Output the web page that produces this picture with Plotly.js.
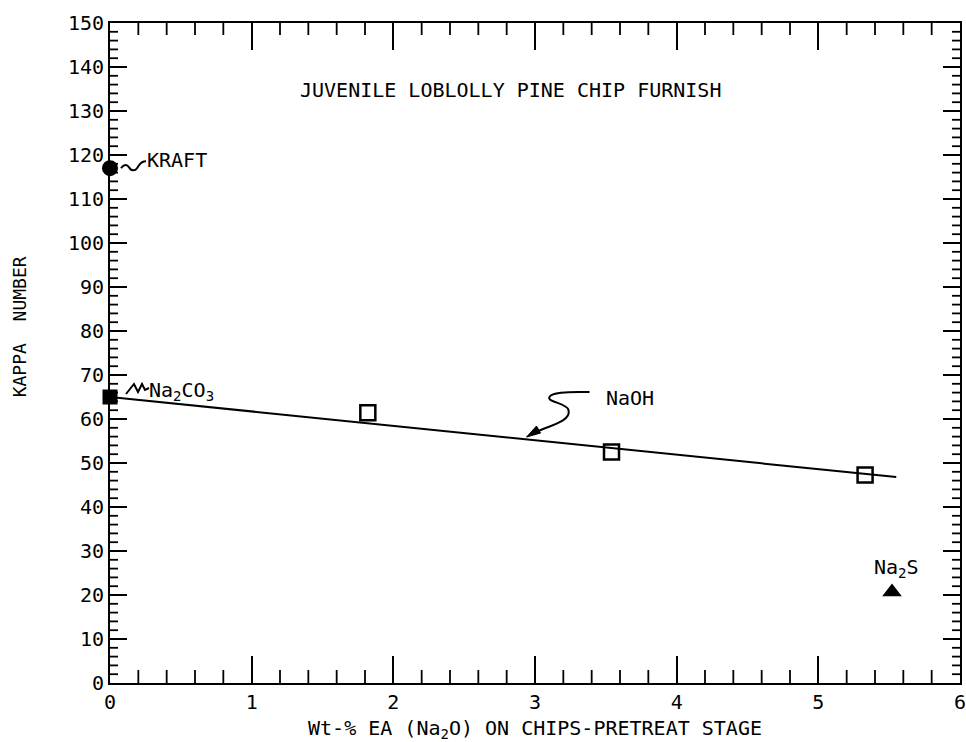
<!DOCTYPE html>
<html>
<head>
<meta charset="utf-8">
<script src="https://cdn.plot.ly/plotly-3.0.1.min.js"></script>
<style>html,body{margin:0;padding:0;background:#fff;}#chart{width:966px;height:742px;}</style>
</head>
<body>
<div id="chart"></div>
<script>
// Data
const naohX = [1.82, 3.54, 5.33];
const naohY = [61.4, 52.5, 47.3];
const fitX = [0, 5.55];
const fitY = [65.0, 46.8];
const kraftX = [0];
const kraftY = [117];
const na2co3X = [0];
const na2co3Y = [65];
const na2sX = [5.52];
const na2sY = [20.7];
const xTicks = [0, 1, 2, 3, 4, 5, 6];
const yTicks = [0, 10, 20, 30, 40, 50, 60, 70, 80, 90, 100, 110, 120, 130, 140, 150];
const xMinorStep = 0.2;
const yMinorStep = 2;
const xMax = 6, yMax = 150;

const FONT = '"DejaVu Sans Mono", "Liberation Mono", monospace';
const ink = '#000';

const traces = [
  {x: fitX, y: fitY, mode: 'lines', line: {color: ink, width: 2}, hoverinfo: 'skip'},
  {x: naohX, y: naohY, mode: 'markers', marker: {symbol: 'square-open', size: 15, color: ink, line: {width: 2.5, color: ink}}},
  {x: kraftX, y: kraftY, mode: 'markers', marker: {symbol: 'circle', size: 16, color: ink}, cliponaxis: false},
  {x: na2co3X, y: na2co3Y, mode: 'markers', marker: {symbol: 'square', size: 15, color: ink}, cliponaxis: false},
  {x: na2sX, y: na2sY, mode: 'markers', marker: {symbol: 'triangle-up', size: 17, color: ink}}
];

const tickFont = {family: FONT, size: 20, color: ink};

// minor tick marks (inside, on all four sides): anchored at axis values, lengths in pixels
function tickPath(xv, yv, path) {
  return {type: 'path', xref: 'x', yref: 'y', xsizemode: 'pixel', ysizemode: 'pixel',
          xanchor: xv, yanchor: yv, path: path, layer: 'below', line: {color: ink, width: 1.8}};
}
const minorShapes = [];
const nX = Math.round(xMax / xMinorStep);
for (let i = 1; i < nX; i++) {
  if (i % 5 === 0) continue;
  const v = i * xMinorStep;
  minorShapes.push(tickPath(v, 0, 'M 0 0 L 0 13'));
  minorShapes.push(tickPath(v, yMax, 'M 0 0 L 0 -12'));
}
const nY = Math.round(yMax / yMinorStep);
for (let i = 1; i < nY; i++) {
  if (i % 5 === 0) continue;
  const v = i * yMinorStep;
  minorShapes.push(tickPath(0, v, 'M 0 0 L 8 0'));
  minorShapes.push(tickPath(xMax, v, 'M 0 0 L -8 0'));
}

const layout = {
  width: 966, height: 742,
  margin: {l: 110, r: 6, t: 23, b: 59},
  paper_bgcolor: '#fff', plot_bgcolor: '#fff',
  showlegend: false,
  xaxis: {
    range: [0, xMax], tickvals: xTicks, ticktext: xTicks.map(String), ticklen: 27,
    showgrid: false, zeroline: false, showline: true, linecolor: ink, linewidth: 2,
    ticks: 'inside', mirror: 'allticks', tickcolor: ink, tickwidth: 2, tickfont: tickFont,
    ticklabeloverflow: 'allow',
    title: {text: 'Wt-% EA (Na<sub>2</sub>O) ON CHIPS-PRETREAT STAGE', font: {family: FONT, size: 20, color: ink}, standoff: 11}
  },
  yaxis: {
    range: [0, yMax], tickvals: yTicks, ticktext: yTicks.map(String), ticklen: 17,
    showgrid: false, zeroline: false, showline: true, linecolor: ink, linewidth: 2,
    ticks: 'inside', mirror: 'allticks', tickcolor: ink, tickwidth: 2, tickfont: tickFont,
    ticklabeloverflow: 'allow'
  },
  annotations: [
    {xref: 'paper', yref: 'paper', x: -0.107, y: 0.539, xanchor: 'center', yanchor: 'middle',
     text: 'KAPPA  NUMBER', textangle: -90,
     showarrow: false, font: {family: FONT, size: 18, color: ink}},
    {xref: 'paper', yref: 'paper', x: 0.471, y: 0.92, text: 'JUVENILE LOBLOLLY PINE CHIP FURNISH',
     showarrow: false, font: {family: FONT, size: 20, color: ink}},
    {xref: 'x', yref: 'y', x: 0.25, y: 118.9, xanchor: 'left', text: 'KRAFT', showarrow: false,
     font: {family: FONT, size: 20, color: ink}},
    {xref: 'x', yref: 'y', x: 0.26, y: 66.3, xanchor: 'left', text: 'Na<sub>2</sub>CO<sub>3</sub>', showarrow: false,
     font: {family: FONT, size: 20, color: ink}},
    {xref: 'x', yref: 'y', x: 3.49, y: 64.8, xanchor: 'left', text: 'NaOH', showarrow: false,
     font: {family: FONT, size: 20, color: ink}},
    {xref: 'x', yref: 'y', x: 5.55, y: 26.1, text: 'Na<sub>2</sub>S', showarrow: false,
     font: {family: FONT, size: 20, color: ink}}
  ],
  shapes: minorShapes.concat([
    // squiggle leader to KRAFT
    {type: 'path', xref: 'x', yref: 'y', xsizemode: 'pixel', ysizemode: 'pixel', xanchor: 0, yanchor: 117,
     path: 'M 11 0 C 14 4, 17 4, 19 1 C 21 -3, 25 -3, 27 0 L 29 3 C 31 6, 34 7, 36 7',
     line: {color: ink, width: 2}},
    // squiggle leader to Na2CO3
    {type: 'path', xref: 'x', yref: 'y', xsizemode: 'pixel', ysizemode: 'pixel', xanchor: 0, yanchor: 65,
     path: 'M 16 3 L 24 13 L 28 5 L 32 13 L 35 7 L 39 9',
     line: {color: ink, width: 2}},
    // S-shaped leader to NaOH line
    {type: 'path', xref: 'x', yref: 'y', xsizemode: 'pixel', ysizemode: 'pixel', xanchor: 2.94, yanchor: 55.9,
     path: 'M 4 3 C 25 12, 45 16, 42 27 C 40 35, 15 35, 25 42 C 32 46, 50 45, 63 45',
     line: {color: ink, width: 2}},
    // arrow head on NaOH leader
    {type: 'path', xref: 'x', yref: 'y', xsizemode: 'pixel', ysizemode: 'pixel', xanchor: 2.94, yanchor: 55.9,
     path: 'M 0 0 L 14 4 L 10 11 Z', fillcolor: ink, line: {color: ink, width: 1}}
  ])
};

Plotly.newPlot('chart', traces, layout, {displayModeBar: false, staticPlot: true});
</script>
</body>
</html>
